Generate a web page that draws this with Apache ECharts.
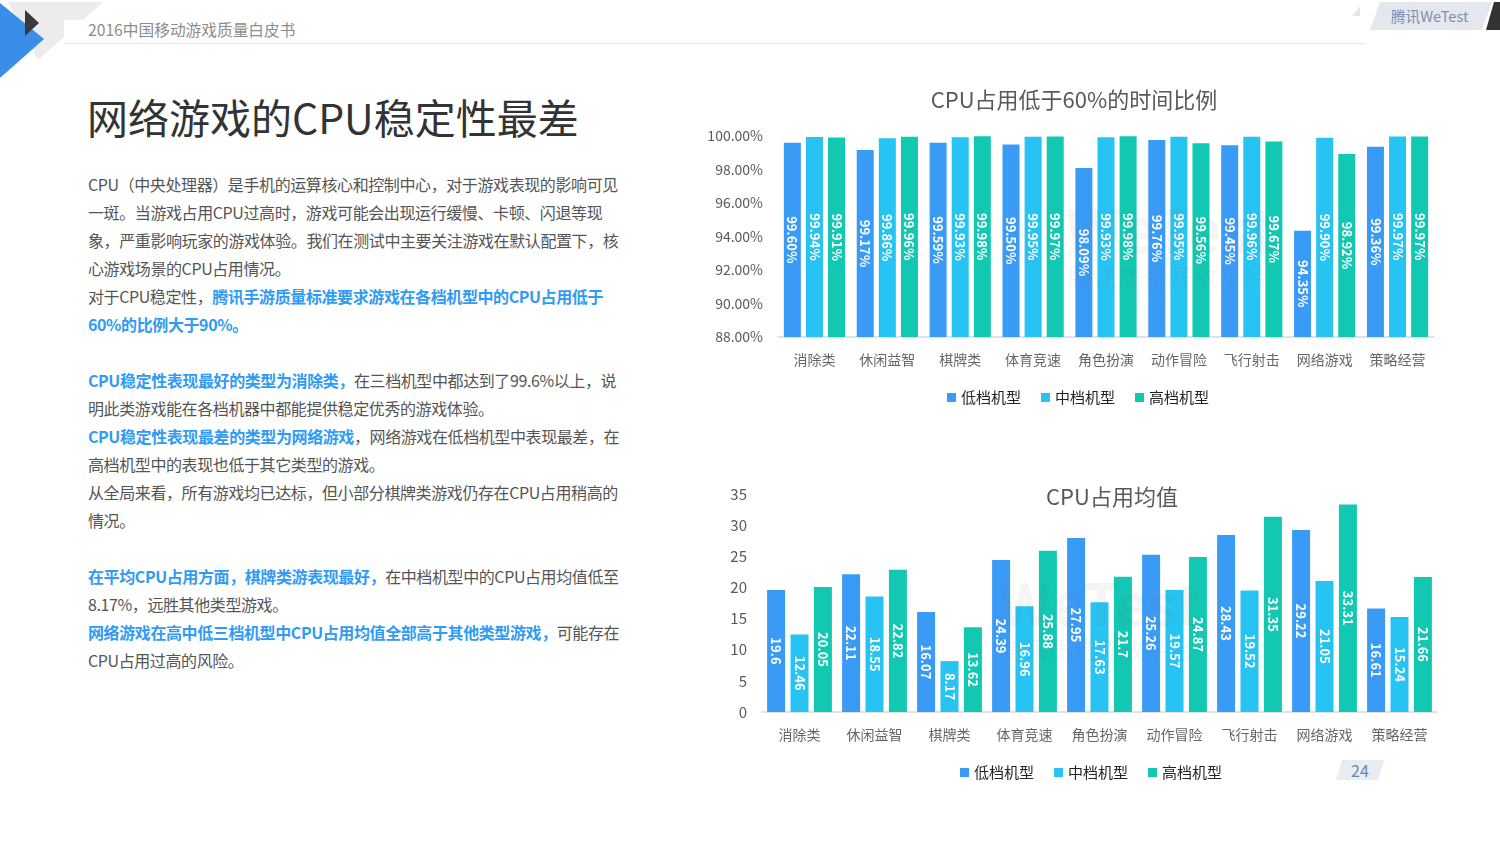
<!DOCTYPE html>
<html><head><meta charset="utf-8">
<script src="https://cdn.jsdelivr.net/npm/echarts@6/dist/echarts.min.js"></script>
<style>
html,body{margin:0;padding:0;width:1500px;height:843px;background:#fff;overflow:hidden;font-family:"Noto Sans CJK SC","Noto Sans",sans-serif;}
#deco{position:absolute;left:0;top:0;width:1500px;height:843px;}
#chart{position:absolute;left:0;top:0;width:1500px;height:843px;}
.t{position:absolute;white-space:nowrap;}
#head{left:88px;top:20px;font-size:15.7px;color:#8c8c8c;line-height:20px;}
#title{left:87px;top:93px;font-size:41px;color:#333;line-height:47px;}
#body{left:88px;top:170px;font-size:16px;letter-spacing:-0.4px;color:#555;line-height:28px;}
#body b{color:#2f9bf5;font-weight:bold;}
#brand{left:1391px;top:7px;font-size:14.6px;color:#7a8fb3;line-height:18px;}
#page{left:1351px;top:760px;font-size:16px;color:#6d85aa;line-height:20px;}
</style></head>
<body>
<svg id="deco" width="1500" height="843">
  <polygon points="8,2 103,2 38,60" fill="#ececec"/>
  <rect x="64" y="20" width="1302" height="23" fill="#fff"/>
  <line x1="64" y1="43.5" x2="1366" y2="43.5" stroke="#ececec" stroke-width="1.5"/>
  <polygon points="0,3 44,39 0,78" fill="#3a8ee8"/>
  <polygon points="25,10 39,23 25,36" fill="#3a3a3a"/>
  <polygon points="1352,16 1360,6 1360,16" fill="#e3e7ec"/>
  <polygon points="1380,2 1492,2 1482,30 1370,30" fill="#e4e8ee"/>
  <polygon points="1494,2 1500,2 1500,30 1486,30" fill="#333"/>
  <polygon points="1342,760 1384,760 1378,780 1336,780" fill="#e8edf3"/>
</svg>
<div class="t" id="head">2016中国移动游戏质量白皮书</div>
<div class="t" id="brand">腾讯WeTest</div>
<div class="t" id="title">网络游戏的CPU稳定性最差</div>
<div class="t" id="body">CPU（中央处理器）是手机的运算核心和控制中心，对于游戏表现的影响可见<br>一斑。当游戏占用CPU过高时，游戏可能会出现运行缓慢、卡顿、闪退等现<br>象，严重影响玩家的游戏体验。我们在测试中主要关注游戏在默认配置下，核<br>心游戏场景的CPU占用情况。<br>对于CPU稳定性，<b>腾讯手游质量标准要求游戏在各档机型中的CPU占用低于</b><br><b>60%的比例大于90%。</b><br><br><b>CPU稳定性表现最好的类型为消除类，</b>在三档机型中都达到了99.6%以上，说<br>明此类游戏能在各档机器中都能提供稳定优秀的游戏体验。<br><b>CPU稳定性表现最差的类型为网络游戏</b>，网络游戏在低档机型中表现最差，在<br>高档机型中的表现也低于其它类型的游戏。<br>从全局来看，所有游戏均已达标，但小部分棋牌类游戏仍存在CPU占用稍高的<br>情况。<br><br><b>在平均CPU占用方面，棋牌类游表现最好，</b>在中档机型中的CPU占用均值低至<br>8.17%，远胜其他类型游戏。<br><b>网络游戏在高中低三档机型中CPU占用均值全部高于其他类型游戏，</b>可能存在<br>CPU占用过高的风险。</div>
<div class="t" id="page">24</div>
<div id="chart"></div>
<script>
var categories = ['消除类','休闲益智','棋牌类','体育竞速','角色扮演','动作冒险','飞行射击','网络游戏','策略经营'];
var seriesNames = ['低档机型','中档机型','高档机型'];
var ratioLow  = [99.60, 99.17, 99.59, 99.50, 98.09, 99.76, 99.45, 94.35, 99.36];
var ratioMid  = [99.94, 99.86, 99.93, 99.95, 99.93, 99.95, 99.96, 99.90, 99.97];
var ratioHigh = [99.91, 99.96, 99.98, 99.97, 99.98, 99.56, 99.67, 98.92, 99.97];
var avgLow  = [19.6, 22.11, 16.07, 24.39, 27.95, 25.26, 28.43, 29.22, 16.61];
var avgMid  = [12.46, 18.55, 8.17, 16.96, 17.63, 19.57, 19.52, 21.05, 15.24];
var avgHigh = [20.05, 22.82, 13.62, 25.88, 21.7, 24.87, 31.35, 33.31, 21.66];
var colors = ['#3a9bf7', '#27c3f3', '#12c8b3'];
var FONT = '"Noto Sans CJK SC","Noto Sans",sans-serif';

var chart = echarts.init(document.getElementById('chart'));
function bar(name, data, xi, color, width, pct) {
  return {
    name: name, type: 'bar', xAxisIndex: xi, yAxisIndex: xi, data: data,
    barWidth: width, barGap: '30%',
    itemStyle: { color: color },
    label: {
      show: true, position: 'inside', rotate: -90, color: '#fff',
      fontWeight: 'bold', fontSize: 13, fontFamily: FONT,
      formatter: function (p) { return pct ? p.value.toFixed(2) + '%' : String(p.value); }
    }
  };
}
var xCommon = {
  type: 'category', data: categories,
  axisLine: { lineStyle: { color: '#d9d9d9', width: 1.5 } },
  axisTick: { show: false },
  axisLabel: { color: '#666', fontSize: 14, margin: 16, fontFamily: FONT }
};
function legend(names, left, top) {
  return { data: names, left: left, top: top, padding: 0, icon: 'rect', itemWidth: 9, itemHeight: 9, itemGap: 20,
    textStyle: { fontSize: 15, color: '#222', fontFamily: FONT } };
}
function mark(x, y, big, small) {
  return [
    { type: 'text', left: x, top: y, z: 100, silent: true,
      style: { text: 'WeTest', fontSize: big, fontWeight: 'bold', fontFamily: FONT, fill: 'rgba(110,110,110,0.07)' } },
    { type: 'text', left: x + 2, top: y + big * 1.08, z: 100, silent: true,
      style: { text: '腾讯质量开放平台', fontSize: small, fontFamily: FONT, fill: 'rgba(110,110,110,0.07)' } }
  ];
}
chart.setOption({
  animation: false,
  textStyle: { fontFamily: FONT },
  title: [
    { text: 'CPU占用低于60%的时间比例', left: 1069, top: 84, textAlign: 'center',
      textStyle: { fontSize: 22, fontWeight: 'normal', color: '#595959', fontFamily: FONT } },
    { text: 'CPU占用均值', left: 1107, top: 481, textAlign: 'center',
      textStyle: { fontSize: 22, fontWeight: 'normal', color: '#595959', fontFamily: FONT } }
  ],
  legend: [
    legend(seriesNames, 947, 390),
    legend(seriesNames, 960, 765)
  ],
  graphic: mark(1066, 200, 60, 25).concat(mark(998, 575, 58, 24)),
  grid: [
    { left: 778, right: 66, top: 136, bottom: 506 },
    { left: 762, right: 63, top: 494, bottom: 131 }
  ],
  xAxis: [
    Object.assign({ gridIndex: 0 }, xCommon),
    Object.assign({ gridIndex: 1 }, xCommon)
  ],
  yAxis: [
    { gridIndex: 0, type: 'value', min: 88, max: 100, interval: 2,
      axisLine: { show: false }, axisTick: { show: false }, splitLine: { show: false },
      axisLabel: { color: '#595959', fontSize: 14, margin: 15, fontFamily: FONT,
        formatter: function (v) { return v.toFixed(2) + '%'; } } },
    { gridIndex: 1, type: 'value', min: 0, max: 35, interval: 5,
      axisLine: { show: false }, axisTick: { show: false }, splitLine: { show: false },
      axisLabel: { color: '#595959', fontSize: 15, margin: 15, fontFamily: FONT } }
  ],
  series: [
    bar(seriesNames[0], ratioLow, 0, colors[0], 17, true),
    bar(seriesNames[1], ratioMid, 0, colors[1], 17, true),
    bar(seriesNames[2], ratioHigh, 0, colors[2], 17, true),
    bar(seriesNames[0], avgLow, 1, colors[0], 18, false),
    bar(seriesNames[1], avgMid, 1, colors[1], 18, false),
    bar(seriesNames[2], avgHigh, 1, colors[2], 18, false)
  ]
});
</script>
</body></html>
